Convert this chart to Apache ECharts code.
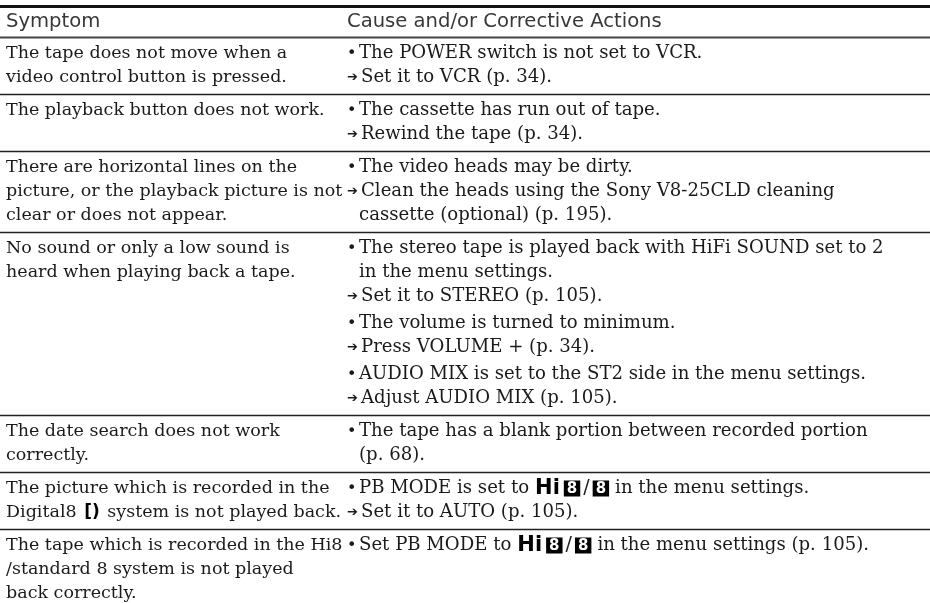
<!DOCTYPE html>
<html>
<head>
<meta charset="utf-8">
<script src="https://cdn.jsdelivr.net/npm/echarts@6/dist/echarts.min.js"></script>
<style>
html,body{margin:0;padding:0;background:#fff;}
#c{width:930px;height:603px;}
</style>
</head>
<body>
<div id="c"></div>
<script>
// ---- table content ----
const headers = ['Symptom', 'Cause and/or Corrective Actions'];

const symptoms = [
  ['The tape does not move when a', 'video control button is pressed.'],
  ['The playback button does not work.'],
  ['There are horizontal lines on the', 'picture, or the playback picture is not', 'clear or does not appear.'],
  ['No sound or only a low sound is', 'heard when playing back a tape.'],
  ['The date search does not work', 'correctly.'],
  ['The picture which is recorded in the', 'Digital8 ¤ system is not played back.'],
  ['The tape which is recorded in the Hi8', '/standard 8 system is not played', 'back correctly.']
];

// b = bullet item, a = arrow (corrective action), c = continuation line
const causes = [
  [['b', 'The POWER switch is not set to VCR.'], ['a', 'Set it to VCR (p. 34).']],
  [['b', 'The cassette has run out of tape.'], ['a', 'Rewind the tape (p. 34).']],
  [['b', 'The video heads may be dirty.'], ['a', 'Clean the heads using the Sony V8-25CLD cleaning'], ['c', 'cassette (optional) (p. 195).']],
  [['b', 'The stereo tape is played back with HiFi SOUND set to 2'], ['c', 'in the menu settings.'], ['a', 'Set it to STEREO (p. 105).'],
   ['b', 'The volume is turned to minimum.'], ['a', 'Press VOLUME + (p. 34).'],
   ['b', 'AUDIO MIX is set to the ST2 side in the menu settings.'], ['a', 'Adjust AUDIO MIX (p. 105).']],
  [['b', 'The tape has a blank portion between recorded portion'], ['c', '(p. 68).']],
  [['b', 'PB MODE is set to§in the menu settings.'], ['a', 'Set it to AUTO (p. 105).']],
  [['b', 'Set PB MODE to§in the menu settings (p. 105).']]
];

// ---- layout / style ----
const W = 930;
const FONT1 = '17.5px "DejaVu Serif"';
const FONT2 = '18.1px "DejaVu Serif"';
const HEAD_FONT = '19.6px "DejaVu Sans"';
const TEXT_COLOR = '#1a1a1a';
const X1 = 6, XB = 347, XT = 359, XA = 361;
const HEAD_SEP = 37.5, PAD_TOP = 16, LINE_H = 24, BULLET_GAP = 3, PAD_BOT = 17;

function richFor(font) {
  return {
    t: { font: font, fill: TEXT_COLOR, lineHeight: 24 },
    hi: { font: 'bold 21px "DejaVu Sans"', fill: '#000', lineHeight: 24, padding: [0, 4, 0, 6] },
    b8: { font: 'bold 15px "DejaVu Sans"', fill: '#fff', backgroundColor: '#000', padding: [1, 3, 0, 3], lineHeight: 24 },
    sl: { font: '19px "DejaVu Sans"', fill: '#222', lineHeight: 24, padding: [0, 3, 0, 3] },
    sp: { font: font, fill: TEXT_COLOR, lineHeight: 24, padding: [0, 0, 0, 6] },
    d8: { font: 'bold 17px "DejaVu Sans"', fill: '#000', lineHeight: 24, padding: [0, 2, 0, 2] }
  };
}

function textEl(str, x, y, font) {
  if (str.indexOf('§') >= 0 || str.indexOf('¤') >= 0) {
    const parts = str.split(/([§¤])/);
    let s = '';
    parts.forEach(p => {
      if (p === '§') s += '{hi|Hi}{b8|8}{sl|/}{b8|8}{sp|}';
      else if (p === '¤') s += '{d8|[)}';
      else if (p.length) s += '{t|' + p + '}';
    });
    return { type: 'text', x: x, y: y, silent: true,
      style: { text: s, rich: richFor(font), font: font, fill: TEXT_COLOR, verticalAlign: 'middle', align: 'left' } };
  }
  return { type: 'text', x: x, y: y, silent: true,
    style: { text: str, font: font, fill: TEXT_COLOR, verticalAlign: 'middle', align: 'left' } };
}

function hline(y, w, color) {
  return { type: 'line', silent: true, shape: { x1: 0, y1: y, x2: W, y2: y }, style: { stroke: color, lineWidth: w } };
}

const g = [];
g.push(hline(6.5, 3, '#111'));
g.push({ type: 'text', x: X1, y: 22, silent: true, style: { text: headers[0], font: HEAD_FONT, fill: '#383838', verticalAlign: 'middle' } });
g.push({ type: 'text', x: 347, y: 22, silent: true, style: { text: headers[1], font: HEAD_FONT, fill: '#383838', verticalAlign: 'middle' } });
g.push(hline(HEAD_SEP, 2, '#444'));

let sep = HEAD_SEP;
causes.forEach((cell, r) => {
  const slots = [];
  let y = sep + PAD_TOP;
  cell.forEach((ln, i) => {
    if (i > 0) { y += LINE_H; if (ln[0] === 'b') y += BULLET_GAP; }
    slots.push(y);
    if (ln[0] === 'b') {
      g.push({ type: 'text', x: XB, y: y, silent: true, style: { text: '•', font: '16px "DejaVu Sans"', fill: TEXT_COLOR, verticalAlign: 'middle' } });
      g.push(textEl(ln[1], XT, y, FONT2));
    } else if (ln[0] === 'a') {
      g.push({ type: 'text', x: XB, y: y, silent: true, style: { text: '➔', font: 'bold 13px "DejaVu Sans"', fill: TEXT_COLOR, verticalAlign: 'middle' } });
      g.push(textEl(ln[1], XA, y, FONT2));
    } else {
      g.push(textEl(ln[1], XT, y, FONT2));
    }
  });
  const sym = symptoms[r];
  let last = y;
  sym.forEach((s, i) => {
    const yy = i < slots.length ? slots[i] : slots[slots.length - 1] + LINE_H * (i - slots.length + 1);
    last = Math.max(last, yy);
    g.push(textEl(s, X1, yy, FONT1));
  });
  sep = last + PAD_BOT;
  if (r < causes.length - 1) g.push(hline(sep, 1.5, '#222'));
});

const chart = echarts.init(document.getElementById('c'), null, { renderer: 'canvas' });
chart.setOption({ backgroundColor: '#fff', animation: false, graphic: { elements: g } });
</script>
</body>
</html>
